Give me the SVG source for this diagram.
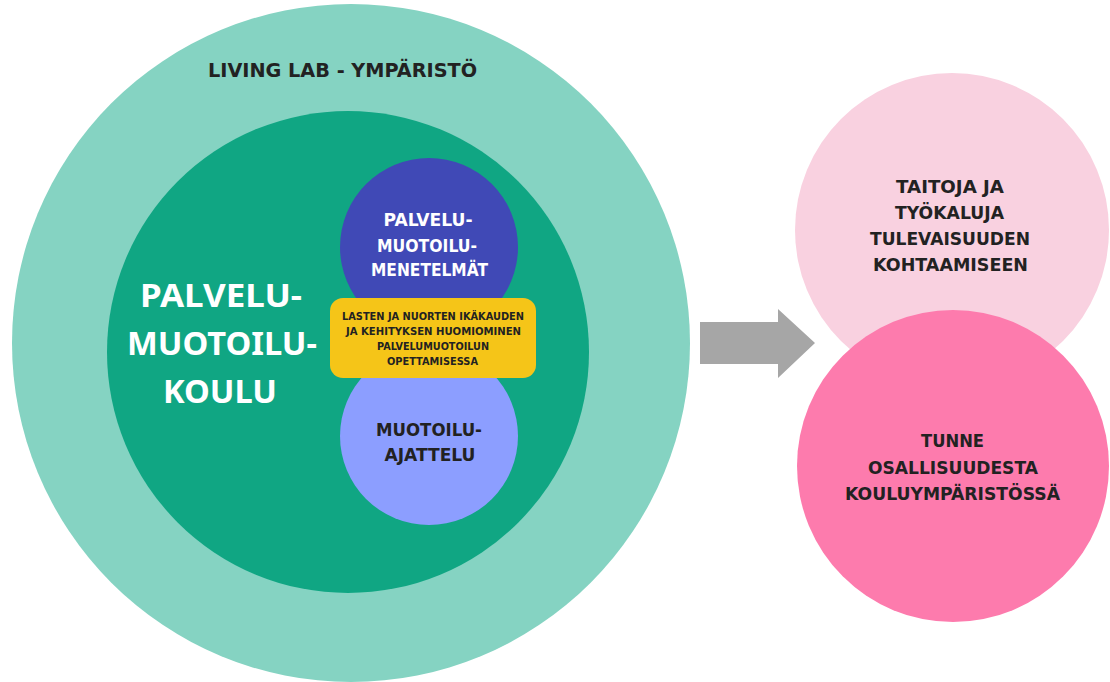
<svg xmlns="http://www.w3.org/2000/svg" width="1110" height="682" viewBox="0 0 1110 682">
<style>
text{font-family:"DejaVu Sans","Noto Sans",sans-serif;font-weight:700;text-anchor:middle}
.big{font-family:"Noto Sans","Liberation Sans",sans-serif;font-size:33px;fill:#ffffff}
.dk{fill:#222222}
.wh{fill:#ffffff}
.m{font-size:17px}
.y{font-size:10px}
</style>
<rect width="1110" height="682" fill="#ffffff"/>
<g id="outer">
<circle cx="351" cy="343" r="339" fill="#85D3C2"/>
<text class="dk" x="342.5" y="77" font-size="20" textLength="269" lengthAdjust="spacingAndGlyphs">LIVING LAB - YMPÄRISTÖ</text>
</g>
<g id="inner">
<circle cx="348" cy="352" r="241" fill="#10A683"/>
<text class="big" x="221" y="307" textLength="162" lengthAdjust="spacingAndGlyphs">PALVELU-</text>
<text class="big" x="222" y="355" textLength="190" lengthAdjust="spacingAndGlyphs">MUOTOILU-</text>
<text class="big" x="220" y="403" textLength="114" lengthAdjust="spacingAndGlyphs">KOULU</text>
</g>
<g id="methods">
<circle cx="429" cy="247" r="89" fill="#4049B6"/>
<text class="wh m" x="428" y="226" textLength="89" lengthAdjust="spacingAndGlyphs">PALVELU-</text>
<text class="wh m" x="427" y="252" textLength="100" lengthAdjust="spacingAndGlyphs">MUOTOILU-</text>
<text class="wh m" x="429.5" y="276" textLength="117" lengthAdjust="spacingAndGlyphs">MENETELMÄT</text>
</g>
<g id="thinking">
<circle cx="429" cy="436" r="89" fill="#8C9EFF"/>
<text class="dk m" x="429" y="436" textLength="106" lengthAdjust="spacingAndGlyphs">MUOTOILU-</text>
<text class="dk m" x="430" y="461" textLength="91" lengthAdjust="spacingAndGlyphs">AJATTELU</text>
</g>
<g id="age">
<rect x="330" y="298" width="206" height="80" rx="13" fill="#F5C518"/>
<text class="dk y" x="433" y="320" textLength="182" lengthAdjust="spacingAndGlyphs">LASTEN JA NUORTEN IKÄKAUDEN</text>
<text class="dk y" x="433.5" y="335" textLength="175" lengthAdjust="spacingAndGlyphs">JA KEHITYKSEN  HUOMIOMINEN</text>
<text class="dk y" x="433" y="350" textLength="112" lengthAdjust="spacingAndGlyphs">PALVELUMUOTOILUN</text>
<text class="dk y" x="432.5" y="365" textLength="91" lengthAdjust="spacingAndGlyphs">OPETTAMISESSA</text>
</g>
<g id="connectors">
<polygon points="700,322 778,322 778,309 815,343 778,378 778,364 700,364" fill="#A6A6A6"/>
</g>
<g id="skills">
<circle cx="952" cy="230" r="157" fill="#F9D1E0"/>
<text class="dk m" x="950" y="193" textLength="108" lengthAdjust="spacingAndGlyphs">TAITOJA JA</text>
<text class="dk m" x="949.5" y="219" textLength="109" lengthAdjust="spacingAndGlyphs">TYÖKALUJA</text>
<text class="dk m" x="950" y="245" textLength="160" lengthAdjust="spacingAndGlyphs">TULEVAISUUDEN</text>
<text class="dk m" x="950.5" y="271" textLength="155" lengthAdjust="spacingAndGlyphs">KOHTAAMISEEN</text>
</g>
<g id="belonging">
<circle cx="953" cy="466" r="156" fill="#FD7BAD"/>
<text class="dk m" x="952.5" y="447" textLength="63" lengthAdjust="spacingAndGlyphs">TUNNE</text>
<text class="dk m" x="953" y="474" textLength="170" lengthAdjust="spacingAndGlyphs">OSALLISUUDESTA</text>
<text class="dk m" x="952.5" y="500" textLength="215" lengthAdjust="spacingAndGlyphs">KOULUYMPÄRISTÖSSÄ</text>
</g>
</svg>
